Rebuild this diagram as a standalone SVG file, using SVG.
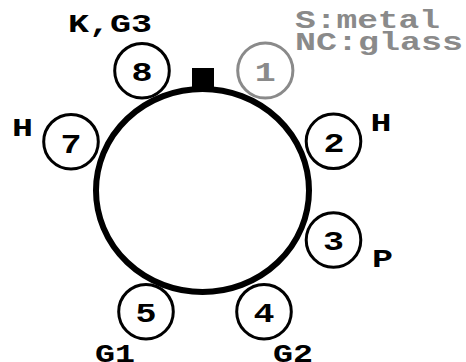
<svg xmlns="http://www.w3.org/2000/svg" width="466" height="362" viewBox="0 0 466 362">
<style>
  .pin { fill: #fff; stroke: #000; stroke-width: 3; }
  .pin.gray { stroke: #8a8a8a; }
  .num { font-family: "Liberation Mono", "DejaVu Sans Mono", monospace; font-weight: bold; font-size: 28px; fill: #000; }
  .num.gray { fill: #8a8a8a; }
  .lbl { font-family: "Liberation Mono", "DejaVu Sans Mono", monospace; font-weight: bold; font-size: 26px; fill: #000; }
  .lbl.gray { fill: #8a8a8a; font-size: 25px; }
</style>
<rect x="0" y="0" width="466" height="362" fill="#fff"/>
<g id="ring">
  <rect x="192" y="68" width="22" height="24" fill="#000"/>
  <ellipse cx="202.5" cy="190.5" rx="106.5" ry="101.5" fill="none" stroke="#000" stroke-width="6"/>
</g>
<g id="pin8">
  <circle class="pin" cx="142" cy="70.7" r="27.3"/>
  <text class="num" x="131.5" y="80.5" textLength="21" lengthAdjust="spacingAndGlyphs">8</text>
</g>
<g id="pin1">
  <circle class="pin gray" cx="265.3" cy="70.5" r="27.6"/>
  <text class="num gray" x="254.8" y="80.5" textLength="21" lengthAdjust="spacingAndGlyphs">1</text>
</g>
<g id="pin7">
  <circle class="pin" cx="71" cy="141.7" r="27.3"/>
  <text class="num" x="60.5" y="152.5" textLength="21" lengthAdjust="spacingAndGlyphs">7</text>
</g>
<g id="pin2">
  <circle class="pin" cx="333.5" cy="141.3" r="27.3"/>
  <text class="num" x="323.5" y="151.5" textLength="21" lengthAdjust="spacingAndGlyphs">2</text>
</g>
<g id="pin3">
  <circle class="pin" cx="333.5" cy="240" r="27.3"/>
  <text class="num" x="323" y="250" textLength="21" lengthAdjust="spacingAndGlyphs">3</text>
</g>
<g id="pin5">
  <circle class="pin" cx="146" cy="311.7" r="27.3"/>
  <text class="num" x="135.5" y="321.5" textLength="21" lengthAdjust="spacingAndGlyphs">5</text>
</g>
<g id="pin4">
  <circle class="pin" cx="264" cy="311.7" r="27.3"/>
  <text class="num" x="253.5" y="321.5" textLength="21" lengthAdjust="spacingAndGlyphs">4</text>
</g>
<g id="labels">
  <text class="lbl" x="68" y="31.7" textLength="84" lengthAdjust="spacingAndGlyphs">K,G3</text>
  <text class="lbl gray" x="295" y="28.3" textLength="145" lengthAdjust="spacingAndGlyphs">S:metal</text>
  <text class="lbl gray" x="295" y="50" textLength="168" lengthAdjust="spacingAndGlyphs">NC:glass</text>
  <text class="lbl" x="12" y="135.5" textLength="21" lengthAdjust="spacingAndGlyphs">H</text>
  <text class="lbl" x="370.5" y="131" textLength="21" lengthAdjust="spacingAndGlyphs">H</text>
  <text class="lbl" x="372" y="266.5" textLength="21" lengthAdjust="spacingAndGlyphs">P</text>
  <text class="lbl" x="95" y="361.5" textLength="40" lengthAdjust="spacingAndGlyphs">G1</text>
  <text class="lbl" x="273" y="361.5" textLength="40" lengthAdjust="spacingAndGlyphs">G2</text>
</g>
</svg>
